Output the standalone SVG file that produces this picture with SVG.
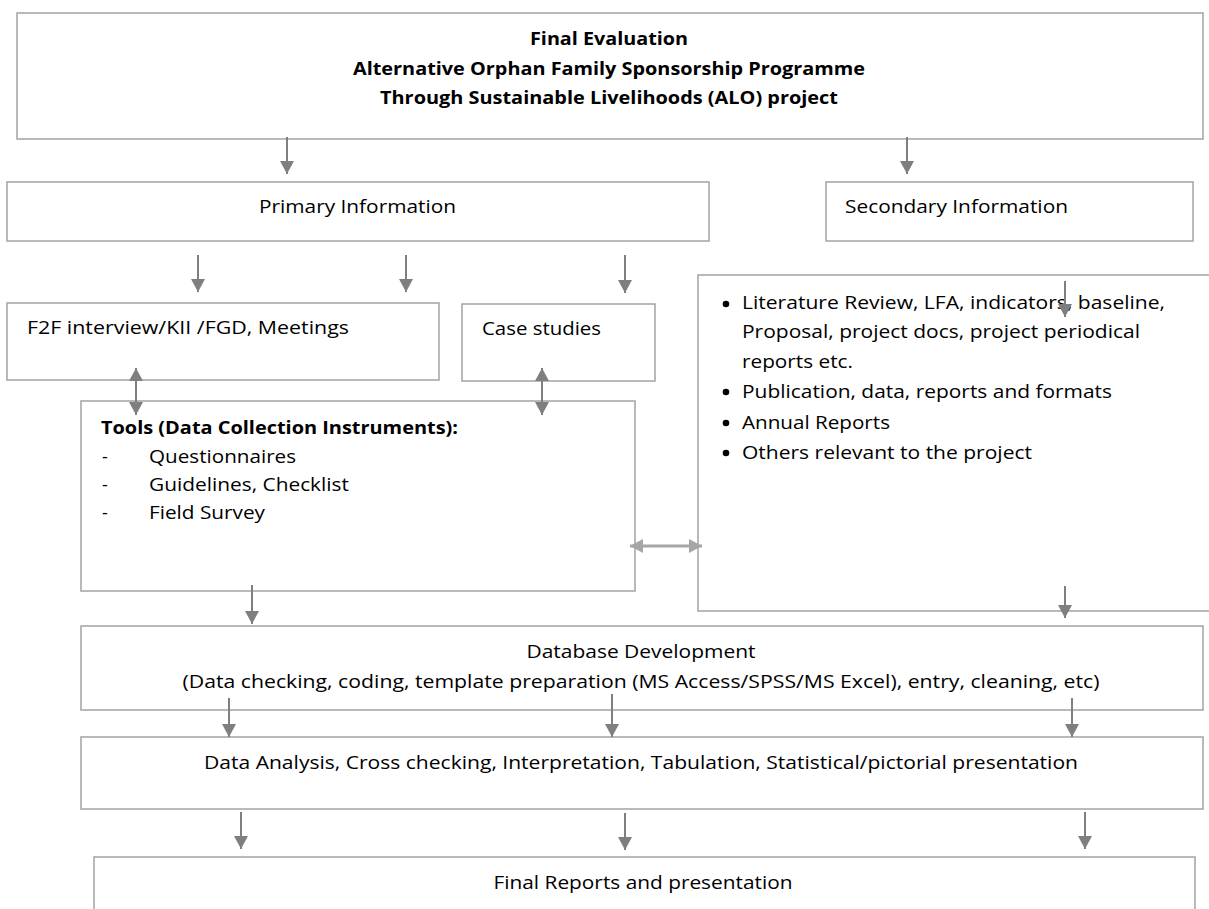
<svg xmlns="http://www.w3.org/2000/svg" width="1209" height="909" viewBox="0 0 1209 909">
  <style>
    .box { fill: #ffffff; stroke: #a3a3a3; stroke-width: 1.5; }
    .t { font-family: "Open Sans", "Liberation Sans", sans-serif; font-size: 18px; fill: #000000; }
    .b { font-weight: 700; }
    .c { text-anchor: middle; }
    .arrow { stroke: #7f7f7f; stroke-width: 2; fill: none; }
    .arrow2 { stroke: #a6a6a6; stroke-width: 3; fill: none; }
  </style>
  <defs>
    <marker id="ah" viewBox="0 0 13 14" refX="13" refY="7" markerWidth="13" markerHeight="14" markerUnits="userSpaceOnUse" orient="auto-start-reverse">
      <path d="M0,0 L13,7 L0,14 z" fill="#7f7f7f"/>
    </marker>
    <marker id="ahl" viewBox="0 0 13 14" refX="13" refY="7" markerWidth="13" markerHeight="14" markerUnits="userSpaceOnUse" orient="auto-start-reverse">
      <path d="M0,0 L13,7 L0,14 z" fill="#a6a6a6"/>
    </marker>
  </defs>
  <rect width="1209" height="909" fill="#ffffff"/>

  <g id="final-evaluation">
    <rect class="box" x="17" y="13" width="1186" height="126"/>
    <text class="t b c" x="609" y="45" textLength="158" lengthAdjust="spacingAndGlyphs">Final Evaluation</text>
    <text class="t b c" x="609" y="75" textLength="512" lengthAdjust="spacingAndGlyphs">Alternative Orphan Family Sponsorship Programme</text>
    <text class="t b c" x="609" y="104" textLength="458" lengthAdjust="spacingAndGlyphs">Through Sustainable Livelihoods (ALO) project</text>
  </g>

  <g id="primary-information">
    <rect class="box" x="7" y="182" width="702" height="59"/>
    <text class="t" x="259" y="213" textLength="197" lengthAdjust="spacingAndGlyphs">Primary Information</text>
  </g>

  <g id="secondary-information">
    <rect class="box" x="826" y="182" width="367" height="59"/>
    <text class="t" x="845" y="213" textLength="223" lengthAdjust="spacingAndGlyphs">Secondary Information</text>
  </g>

  <g id="f2f-interview">
    <rect class="box" x="7" y="303" width="432" height="77"/>
    <text class="t" x="27" y="334" textLength="322" lengthAdjust="spacingAndGlyphs">F2F interview/KII /FGD, Meetings</text>
  </g>

  <g id="case-studies">
    <rect class="box" x="462" y="304" width="193" height="77"/>
    <text class="t" x="482" y="335" textLength="119" lengthAdjust="spacingAndGlyphs">Case studies</text>
  </g>

  <g id="tools">
    <rect class="box" x="81" y="401" width="554" height="190"/>
    <text class="t b" x="101" y="434" textLength="357" lengthAdjust="spacingAndGlyphs">Tools (Data Collection Instruments):</text>
    <text class="t" x="102" y="463">-</text>
    <text class="t" x="149" y="463" textLength="147" lengthAdjust="spacingAndGlyphs">Questionnaires</text>
    <text class="t" x="102" y="491">-</text>
    <text class="t" x="149" y="491" textLength="200" lengthAdjust="spacingAndGlyphs">Guidelines, Checklist</text>
    <text class="t" x="102" y="519">-</text>
    <text class="t" x="149" y="519" textLength="116" lengthAdjust="spacingAndGlyphs">Field Survey</text>
  </g>

  <g id="secondary-sources">
    <rect class="box" x="698" y="275" width="520" height="336"/>
    <circle cx="726" cy="304" r="3.3" fill="#000000"/>
    <text class="t" x="742" y="309" textLength="423" lengthAdjust="spacingAndGlyphs">Literature Review, LFA, indicators, baseline,</text>
    <text class="t" x="742" y="338" textLength="398" lengthAdjust="spacingAndGlyphs">Proposal, project docs, project periodical</text>
    <text class="t" x="742" y="368" textLength="111" lengthAdjust="spacingAndGlyphs">reports etc.</text>
    <circle cx="726" cy="392" r="3.3" fill="#000000"/>
    <text class="t" x="742" y="398" textLength="370" lengthAdjust="spacingAndGlyphs">Publication, data, reports and formats</text>
    <circle cx="726" cy="423" r="3.3" fill="#000000"/>
    <text class="t" x="742" y="429" textLength="148" lengthAdjust="spacingAndGlyphs">Annual Reports</text>
    <circle cx="726" cy="453" r="3.3" fill="#000000"/>
    <text class="t" x="742" y="459" textLength="290" lengthAdjust="spacingAndGlyphs">Others relevant to the project</text>
  </g>

  <g id="database-development">
    <rect class="box" x="81" y="626" width="1122" height="84"/>
    <text class="t c" x="641" y="658" textLength="229" lengthAdjust="spacingAndGlyphs">Database Development</text>
    <text class="t c" x="641" y="688" textLength="917" lengthAdjust="spacingAndGlyphs">(Data checking, coding, template preparation (MS Access/SPSS/MS Excel), entry, cleaning, etc)</text>
  </g>

  <g id="data-analysis">
    <rect class="box" x="81" y="737" width="1122" height="72"/>
    <text class="t c" x="641" y="769" textLength="874" lengthAdjust="spacingAndGlyphs">Data Analysis, Cross checking, Interpretation, Tabulation, Statistical/pictorial presentation</text>
  </g>

  <g id="final-reports">
    <rect class="box" x="94" y="857" width="1101" height="70"/>
    <text class="t c" x="643" y="889" textLength="299" lengthAdjust="spacingAndGlyphs">Final Reports and presentation</text>
  </g>

  <g id="connectors">
    <line class="arrow" x1="287" y1="137" x2="287" y2="174" marker-end="url(#ah)"/>
    <line class="arrow" x1="907" y1="137" x2="907" y2="174" marker-end="url(#ah)"/>
    <line class="arrow" x1="198" y1="255" x2="198" y2="292" marker-end="url(#ah)"/>
    <line class="arrow" x1="406" y1="255" x2="406" y2="292" marker-end="url(#ah)"/>
    <line class="arrow" x1="625" y1="255" x2="625" y2="293" marker-end="url(#ah)"/>
    <line class="arrow" x1="1065" y1="281" x2="1065" y2="317" marker-end="url(#ah)"/>
    <line class="arrow" x1="136" y1="368" x2="136" y2="415" marker-start="url(#ah)" marker-end="url(#ah)"/>
    <line class="arrow" x1="542" y1="368" x2="542" y2="415" marker-start="url(#ah)" marker-end="url(#ah)"/>
    <line class="arrow2" x1="630" y1="546" x2="702" y2="546" marker-start="url(#ahl)" marker-end="url(#ahl)"/>
    <line class="arrow" x1="252" y1="585" x2="252" y2="624" marker-end="url(#ah)"/>
    <line class="arrow" x1="1065" y1="586" x2="1065" y2="618" marker-end="url(#ah)"/>
    <line class="arrow" x1="229" y1="698" x2="229" y2="737" marker-end="url(#ah)"/>
    <line class="arrow" x1="612" y1="694" x2="612" y2="737" marker-end="url(#ah)"/>
    <line class="arrow" x1="1072" y1="698" x2="1072" y2="737" marker-end="url(#ah)"/>
    <line class="arrow" x1="241" y1="812" x2="241" y2="849" marker-end="url(#ah)"/>
    <line class="arrow" x1="625" y1="813" x2="625" y2="850" marker-end="url(#ah)"/>
    <line class="arrow" x1="1085" y1="812" x2="1085" y2="849" marker-end="url(#ah)"/>
  </g>
</svg>
